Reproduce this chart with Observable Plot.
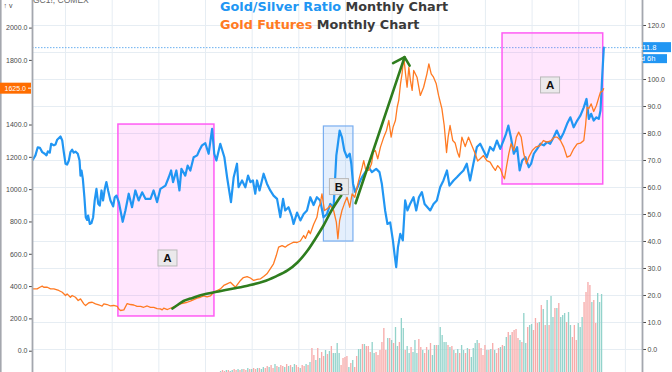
<!DOCTYPE html>
<html><head><meta charset="utf-8">
<script src="https://cdn.jsdelivr.net/npm/d3@7"></script>
<script src="https://cdn.jsdelivr.net/npm/@observablehq/plot@0.6"></script>
<style>
html,body{margin:0;padding:0;background:#fff;}
#chart{position:relative;width:672px;height:372px;overflow:hidden;background:#fff;}
#chart svg{position:absolute;left:0;top:0;}
</style></head><body><div id="chart"></div>
<script>
// x = months since Aug 1995
const goldTicks = [0,200,400,600,800,1000,1200,1400,1600,1800,2000];
const ratioTicks = [0,10,20,30,40,50,60,70,80,90,100,110,120];
const gridMonths = [17,41,65,89,113,137,161,185,209,233,257,281,305];
const lastRatio = 111.8, lastGold = 1625, timeLeft = "3d 6h";

const ratioSeries = [[0.2,70.3],[1.5,71.9],[2.7,74.9],[3.8,74.7],[5.0,73.1],[6.3,72.5],[7.2,71.9],[7.9,73.4],[8.9,72.9],[9.6,76.2],[11.0,75.6],[11.8,75.9],[12.7,77.7],[14.4,78.9],[15.3,77.4],[16.1,73.1],[17.0,68.8],[17.8,68.5],[18.7,70.0],[19.5,73.1],[20.4,74.0],[21.2,72.9],[22.1,73.3],[23.3,72.5],[24.2,70.0],[24.7,64.4],[25.2,66.3],[25.9,63.2],[26.7,56.4],[27.4,49.0],[28.1,48.0],[28.6,49.6],[29.5,46.5],[30.3,46.8],[31.2,49.0],[32.0,55.2],[32.9,59.5],[33.8,54.0],[34.6,53.3],[35.5,58.9],[36.3,55.2],[37.2,59.5],[38.0,62.0],[38.9,58.9],[40.1,55.2],[41.5,53.0],[42.3,56.4],[43.2,57.0],[44.4,54.6],[46.4,47.3],[47.8,51.5],[49.5,57.7],[51.2,52.7],[52.9,58.9],[54.6,55.2],[56.4,58.2],[58.1,55.8],[60.7,55.8],[62.3,58.9],[64.1,54.6],[65.8,59.5],[68.4,60.7],[70.1,63.8],[71.3,66.3],[72.3,62.0],[74.0,66.3],[75.6,58.9],[76.6,66.9],[78.6,64.4],[79.8,68.1],[81.2,66.3],[82.9,71.2],[84.7,71.9],[85.8,73.7],[87.2,75.6],[88.9,76.4],[90.6,72.5],[92.4,81.7],[93.5,72.5],[94.6,70.0],[96.6,76.2],[98.7,71.2],[100.1,63.8],[102.1,54.6],[103.5,63.8],[105.2,68.8],[106.0,60.1],[107.8,62.6],[109.5,60.1],[110.9,64.4],[112.1,62.0],[113.4,62.6],[114.6,57.7],[115.5,62.6],[116.8,58.9],[118.9,65.1],[120.6,61.4],[122.3,58.9],[124.0,57.0],[125.8,55.8],[127.5,49.0],[128.9,55.8],[130.0,51.5],[131.7,52.7],[133.5,49.0],[134.3,46.5],[136.1,50.7],[137.8,47.8],[139.5,50.2],[141.2,51.5],[142.9,56.4],[144.6,53.5],[146.3,56.4],[148.0,55.2],[149.7,49.0],[151.5,50.2],[153.2,53.9],[154.9,52.7],[156.3,71.9],[156.9,75.0],[158.0,81.1],[159.2,78.6],[160.4,73.7],[161.8,71.2],[163.2,72.5],[164.0,68.8],[164.9,61.4],[166.0,58.3],[167.2,60.1],[168.6,62.6],[170.0,64.4],[171.7,66.3],[172.9,67.5],[174.6,65.7],[176.8,66.9],[178.5,65.7],[179.7,61.4],[181.4,51.5],[182.6,46.5],[184.0,47.1],[185.4,40.4],[186.2,35.5],[187.1,30.5],[188.0,37.9],[189.2,42.8],[190.5,40.4],[191.7,55.2],[192.9,51.5],[194.3,54.0],[196.0,56.4],[197.4,51.5],[198.8,56.4],[200.3,58.3],[201.7,53.9],[204.6,51.5],[206.3,53.9],[208.0,55.2],[209.7,60.1],[211.4,62.6],[213.2,66.3],[214.5,60.7],[216.6,62.6],[218.3,63.8],[220.0,65.1],[221.7,66.3],[223.4,68.8],[225.1,62.6],[226.8,68.8],[228.6,75.0],[230.3,76.2],[232.0,73.7],[233.7,71.2],[235.4,75.0],[237.1,73.7],[238.9,77.4],[240.6,74.3],[242.3,77.4],[243.6,79.9],[244.8,82.9],[246.1,78.6],[247.6,72.5],[249.3,74.9],[250.6,66.3],[251.9,70.0],[253.6,71.2],[255.3,67.5],[256.5,68.8],[257.9,72.5],[259.6,74.3],[261.3,76.2],[263.0,75.6],[264.7,76.8],[266.3,76.2],[268.1,78.6],[269.7,81.1],[271.6,78.0],[273.3,80.4],[275.0,83.6],[276.7,86.0],[278.4,82.3],[280.2,84.8],[281.9,86.7],[283.6,89.7],[285.0,92.8],[286.2,85.4],[287.4,87.3],[288.7,84.8],[290.1,86.0],[291.3,85.4],[292.2,88.5],[293.1,101.5],[293.9,111.8]];

const goldSeries = [[0.2,386],[2.4,386],[3.8,396],[5.0,403],[5.8,396],[7.6,396],[9.3,386],[11.0,386],[13.5,376],[15.3,365],[17.0,345],[17.8,355],[19.5,334],[20.4,345],[22.1,334],[23.5,314],[24.7,324],[26.4,293],[27.3,283],[29.0,300],[30.7,303],[32.4,293],[34.1,287],[35.0,283],[35.8,279],[36.7,293],[38.4,289],[40.1,280],[41.8,283],[43.6,277],[44.4,261],[45.3,252],[47.0,256],[48.7,295],[50.4,289],[52.1,286],[53.8,277],[55.6,277],[57.2,272],[59.0,280],[60.7,271],[62.4,271],[64.1,264],[65.8,262],[66.7,256],[67.5,266],[69.4,258],[71.5,269],[74.4,283],[76.1,293],[79.6,303],[81.2,310],[84.7,329],[86.4,334],[88.1,342],[89.8,336],[91.5,342],[93.2,365],[95.0,376],[96.7,386],[98.4,407],[100.1,417],[101.8,427],[104.4,396],[107.0,438],[108.5,456],[110.4,462],[112.1,453],[113.8,438],[115.5,444],[117.3,448],[118.9,462],[120.6,479],[122.3,509],[124.0,541],[125.4,592],[126.6,644],[128.4,654],[130.0,644],[131.4,657],[132.7,665],[134.4,675],[136.1,673],[137.8,682],[139.5,716],[140.4,698],[142.1,747],[142.9,727],[144.6,784],[146.3,829],[147.2,891],[148.0,912],[148.9,974],[150.2,871],[151.5,881],[153.2,902],[154.9,871],[156.3,799],[157.1,696],[158.0,809],[159.2,871],[160.4,912],[161.8,953],[163.2,891],[164.4,974],[165.8,953],[167.8,1057],[169.6,1139],[170.4,1180],[171.3,1129],[173.0,1119],[174.4,1160],[175.3,1232],[176.4,1242],[177.6,1191],[179.0,1263],[180.7,1325],[182.1,1366],[183.3,1428],[184.5,1325],[185.5,1387],[186.7,1428],[187.6,1510],[188.4,1552],[189.3,1655],[190.1,1717],[191.0,1820],[191.9,1717],[192.7,1634],[193.6,1758],[194.4,1676],[195.3,1614],[196.1,1738],[197.8,1696],[199.5,1583],[201.2,1634],[202.9,1717],[203.9,1779],[205.1,1717],[206.3,1696],[207.7,1655],[208.9,1583],[210.6,1502],[211.8,1397],[213.0,1230],[213.8,1325],[214.8,1397],[216.2,1304],[217.4,1289],[218.6,1232],[219.6,1201],[220.9,1325],[222.6,1267],[224.3,1325],[226.0,1273],[227.7,1224],[229.0,1177],[230.3,1191],[232.0,1211],[233.7,1180],[235.4,1170],[236.9,1139],[238.1,1119],[239.3,1149],[240.7,1129],[241.9,1088],[242.8,1067],[243.8,1139],[245.0,1222],[246.2,1284],[247.6,1242],[248.9,1325],[250.1,1356],[251.4,1325],[252.7,1222],[254.1,1160],[255.3,1201],[257.1,1242],[258.8,1263],[261.0,1273],[262.8,1304],[264.7,1294],[266.8,1304],[268.5,1325],[269.9,1325],[271.6,1304],[273.3,1263],[275.0,1201],[276.7,1211],[278.4,1253],[280.2,1284],[281.9,1288],[283.6,1304],[284.5,1397],[285.3,1510],[286.2,1502],[287.4,1531],[288.7,1484],[290.1,1521],[291.3,1570],[292.2,1604],[293.1,1608],[293.8,1625]];

// monthly volume (arbitrary units), first bar at month 97; t = up month, p = down month
const volumeStart = 97;
const volumeValues = [1,2,1,2,2,1,2,3,2,3, 2,3,3,2,4,3,3,4,3,4, 4,3,5,4,6,5,7,4,8,6, 5,7,6,5,8,6,7,5,8,7, 5,4,7,6,8,7,10,24,17,12, 24,14,20,16,22,18,21,
 26,19,19,29,19,7,14,15,16,5, 9,12,5,16,23,23,28,28,26,26, 20,30,19,20,17,22,30,44,22,34, 34,32,29,45,26,30,54,44,22,26, 19,25,20,32,19,33,25,22,19,25, 22,29,17,27,27,27,45,37,30,30, 27,25,26,22,19,23,19,27,22,19, 24,23,15,24,29,32,29,24,17,27, 22,22,23,29,22,19,24,25,27,26, 35,40,37,40,42,43,34,32,30,59, 29,45,47,48,42,54,49,50,67,63, 47,72,47,76,55,64,64,69,55,57, 59,50,60,47,35,47,32,49,45,55, 70,80,90,87,70,72,49,79,70,78];
const volumeDir = "tpptpttppt"+"ptpptptppt"+"pttpptpptp"+"tpptptpttp"+"ptpptptppt"+"ptpptpt"+
 "pttttppppt"+"ptppttptpp"+"pttppppppt"+"ptpttpttpt"+"tptttpptpp"+"tpttpttttt"+"ptptptpttp"+"tpttttpppp"+"tptptpptpt"+"tptpppptpt"+"tpttppptpt"+"ptpttptptt"+"tpttppptt"+"t"+"pppptppttt";

// annotations (month, gold price)
const zoneBoxes = [
  {m1:44.2, m2:93.6, p1:215, p2:1403, kind:"A"},
  {m1:149.9, m2:165.1, p1:679, p2:1391, kind:"B"},
  {m1:241.8, m2:293.6, p1:1032, p2:1967, kind:"A"}
];
const zoneLabels = [{m:69.7, p:574, t:"A"}, {m:157.9, p:1016, t:"B"}, {m:266.5, p:1645, t:"A"}];
const trendCurve = [[72.0,264],[74.6,286],[77.7,311],[81.3,326],[88.0,351],[95.7,370],[103.4,388],[111.1,407],[118.8,431],[125.0,462],[131.2,500],[136.3,549],[141.5,623],[145.6,698],[149.7,778],[153.8,871],[158.8,964]];
const trendLine = [[166.2,916],[191.4,1820]];
const arrowHead = [[185.5,1783],[191.4,1820],[194.0,1768]];

const BLUE = "#2196f3", ORANGE = "#ff7a22", GREEN = "#2e7d1e";
const FONT = "'Liberation Sans', Arial, sans-serif";
const TFONT = "'DejaVu Sans', sans-serif";
const volData = volumeValues.map((v,i)=>({m: volumeStart+i, v, up: volumeDir[i]==="t"}));
const ratioData = ratioSeries.map(([m,v])=>({m,v}));
const goldData = goldSeries.map(([m,v])=>({m,v}));

const base = {width:672, height:372, marginLeft:32, marginRight:30, marginTop:0, marginBottom:0,
  x:{domain:[0,313.8], axis:null},
  style:{background:"transparent", overflow:"visible", fontFamily:FONT, fontSize:"7px"}};
const goldY = {domain:[-131.8,2170.8], axis:null};
const ratioY = {domain:[-8.52,129.26], axis:null};
const chart = document.getElementById("chart");
const add = (p)=>chart.appendChild(p);

// layer 1: grid, right axis, last-value dotted line
add(Plot.plot({...base, y:ratioY, marks:[
  Plot.ruleY(ratioTicks, {stroke:"#e6edf3", strokeWidth:1}),
  Plot.ruleX(gridMonths, {stroke:"#e6edf3", strokeWidth:1}),
  Plot.ruleY([lastRatio], {stroke:"#6ab0f0", strokeWidth:1, strokeDasharray:"1.5,1.5"}),
  Plot.axisY({anchor:"right", ticks:ratioTicks.filter(d=>d!==110), tickFormat:d=>d.toFixed(1), tickSize:3, tickPadding:2, color:"#4a4a4a"}),
  Plot.ruleX([313.8], {stroke:"#a4a7ae", strokeWidth:1.8})
]}));

// layer 2: volume bars
add(Plot.plot({...base, y:{domain:[0,372], axis:null}, marks:[
  Plot.rect(volData.filter(d=>d.up), {x1:d=>d.m-0.34, x2:d=>d.m+0.34, y1:0, y2:"v", fill:"#93d3cb"}),
  Plot.rect(volData.filter(d=>!d.up), {x1:d=>d.m-0.34, x2:d=>d.m+0.34, y1:0, y2:"v", fill:"#f7abaa"})
]}));

// layer 3: zone boxes (gold scale)
add(Plot.plot({...base, y:goldY, marks:[
  Plot.rect(zoneBoxes.filter(d=>d.kind==="A"), {x1:"m1", x2:"m2", y1:"p1", y2:"p2", fill:"#ff3cf0", fillOpacity:0.13, stroke:"#ff5cf4", strokeWidth:1.5}),
  Plot.rect(zoneBoxes.filter(d=>d.kind==="B"), {x1:"m1", x2:"m2", y1:"p1", y2:"p2", fill:"#2f80ed", fillOpacity:0.13, stroke:"#79aef0", strokeWidth:1.2})
]}));

// layer 4: ratio line and its last-value label
add(Plot.plot({...base, y:ratioY, marks:[
  Plot.line(ratioData, {x:"m", y:"v", stroke:BLUE, strokeWidth:2.2, strokeLinejoin:"round"}),
  (index, scales) => {
    const g = d3.create("svg:g").attr("font-family", FONT).attr("font-size", 7.5);
    const y = scales.y(lastRatio);
    g.append("rect").attr("x",643).attr("y",y-5).attr("width",28).attr("height",10).attr("fill",BLUE);
    g.append("text").attr("x",647.5).attr("y",y+2.6).attr("fill","#fff").text(lastRatio.toFixed(1));
    g.append("rect").attr("x",643).attr("y",y+7).attr("width",24).attr("height",9).attr("fill",BLUE);
    g.append("text").attr("x",646).attr("y",y+14).attr("fill","#fff").text(timeLeft);
    return g.node();
  }
]}));

// layer 5: gold line, trend annotations, left axis, labels
add(Plot.plot({...base, y:goldY, marks:[
  Plot.line(goldData, {x:"m", y:"v", stroke:ORANGE, strokeWidth:1.3}),
  Plot.line(trendCurve, {x:d=>d[0], y:d=>d[1], stroke:GREEN, strokeWidth:2.6, curve:"catmull-rom"}),
  Plot.line(trendLine, {x:d=>d[0], y:d=>d[1], stroke:GREEN, strokeWidth:2.6}),
  Plot.line(arrowHead, {x:d=>d[0], y:d=>d[1], stroke:GREEN, strokeWidth:2.6}),
  Plot.axisY({anchor:"left", ticks:goldTicks.filter(d=>d!==1600), tickFormat:d=>d.toFixed(1), tickSize:3, tickPadding:2, color:"#4a4a4a"}),
  Plot.ruleX([0], {stroke:"#a4a7ae", strokeWidth:1.8}),
  (index, scales) => {
    const g = d3.create("svg:g").attr("font-family", FONT);
    for (const l of zoneLabels) {
      const cx = scales.x(l.m), cy = scales.y(l.p);
      g.append("rect").attr("x",cx-9.5).attr("y",cy-8).attr("width",19).attr("height",16)
        .attr("fill","#e9e9e9").attr("fill-opacity",0.92).attr("stroke","#b9b9b9").attr("stroke-width",1);
      g.append("text").attr("x",cx).attr("y",cy+4).attr("text-anchor","middle")
        .attr("font-size",11.5).attr("font-weight","bold").attr("fill","#111").text(l.t);
    }
    const y = scales.y(lastGold);
    g.append("line").attr("x1",0.8).attr("x2",0.8).attr("y1",0).attr("y2",372).attr("stroke","#a4a7ae").attr("stroke-width",1.6);
    g.append("rect").attr("x",0).attr("y",y-5.5).attr("width",31).attr("height",11).attr("fill","#ff6d00");
    g.append("text").attr("x",26).attr("y",y+2.6).attr("text-anchor","end").attr("font-size",7).attr("fill","#fff").text(lastGold.toFixed(1));
    g.append("line").attr("x1",28).attr("x2",31).attr("y1",y).attr("y2",y).attr("stroke","#fff");
    return g.node();
  }
]}));

// titles
const t = d3.select(chart).append("svg").attr("width",672).attr("height",372);
t.append("text").attr("x",33).attr("y",3.4).attr("font-family",FONT).attr("font-size",8.5).attr("fill","#666").text("GC1!, COMEX");
const l1 = t.append("text").attr("x",220).attr("y",11).attr("font-family",TFONT).attr("font-size",12.8).attr("font-weight","bold");
l1.append("tspan").attr("fill",BLUE).text("Gold/Silver Ratio");
l1.append("tspan").attr("fill","#3a3a3a").text(" Monthly Chart");
const l2 = t.append("text").attr("x",220).attr("y",28.5).attr("font-family",TFONT).attr("font-size",12.8).attr("font-weight","bold");
l2.append("tspan").attr("fill",ORANGE).text("Gold Futures");
l2.append("tspan").attr("fill","#3a3a3a").text(" Monthly Chart");
</script></body></html>
